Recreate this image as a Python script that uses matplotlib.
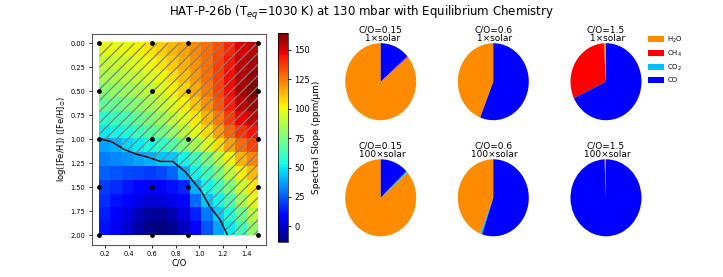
# HAT-P-26b - spektralni sklon + chemicke slozeni (kolace)

import numpy as np
import matplotlib.pyplot as plt

plt.rcParams['hatch.color'] = 'gray'
plt.rcParams['hatch.linewidth'] = 0.9

# mrizka sklonu (ppm/um), radky = log metalicity 0 -> 2, sloupce = C/O 0.15 -> 1.5
slope = np.array([
    [98, 99, 100, 102, 105, 109, 113, 117, 122, 127, 133, 141, 149, 155],
    [91, 92, 94, 97, 101, 105, 110, 115, 121, 127, 135, 144, 153, 158],
    [85, 86, 88, 91, 95, 100, 106, 112, 119, 127, 136, 146, 156, 161],
    [78, 80, 82, 85, 90, 96, 102, 108, 116, 125, 135, 146, 157, 164],
    [70, 72, 75, 79, 84, 90, 96, 103, 111, 121, 132, 143, 154, 160],
    [58, 61, 65, 70, 76, 82, 89, 96, 104, 114, 125, 137, 147, 153],
    [50, 52, 56, 61, 67, 74, 81, 88, 97, 107, 118, 129, 139, 145],
    [37, 40, 46, 50, 54, 60, 67, 76, 85, 95, 106, 117, 128, 136],
    [31, 33, 35, 38, 40, 44, 44, 52, 63, 75, 88, 101, 114, 123],
    [26, 24, 22, 21, 20, 22, 27, 40, 52, 62, 75, 88, 103, 113],
    [20, 17, 13, 10, 8, 9, 12, 16, 40, 52, 63, 76, 93, 105],
    [17, 12, 7, 3, 0, 1, 4, 8, 28, 44, 52, 65, 84, 98],
    [14, 8, 2, -4, -8, -9, -6, 2, 15, 30, 45, 55, 72, 88],
    [12, 5, -1, -7, -11, -13, -10, -3, 8, 24, 38, 50, 62, 80],
])
co_grid = np.linspace(0.15, 1.5, 14)
met_grid = np.linspace(0, 2, 14)
hranice = 44  # uroven kontury

# body modelu
co_body = [0.15, 0.6, 0.9, 1.5]
met_body = [0, 0.5, 1.0, 1.5, 2.0]

# kolace: H2O, CH4, CO2, CO
molekuly = ['H$_2$O', 'CH$_4$', 'CO$_2$', 'CO']
barvy = ['darkorange', 'red', 'deepskyblue', 'blue']
pie_co = ['0.15', '0.6', '1.5']
pie_met = ['1', '100']
slozeni_1x = [[0.86, 0.004, 0.001, 0.135],
              [0.44, 0.0, 0.0, 0.56],
              [0.01, 0.31, 0.0, 0.68]]
slozeni_100x = [[0.865, 0.0, 0.007, 0.128],
                [0.44, 0.0, 0.009, 0.551],
                [0.003, 0.004, 0.0, 0.993]]

fig = plt.figure(figsize=(7.23, 2.77), dpi=100)
fig.suptitle('HAT-P-26b (T$_{eq}$=1030 K) at 130 mbar with Equilibrium Chemistry',
             fontsize=8.5, y=0.985)

# heatmapa
ax = fig.add_axes([0.1266, 0.1159, 0.2413, 0.7625])
im = ax.imshow(slope, cmap='jet', aspect='auto', interpolation='nearest',
               extent=[0.15, 1.5, 2, 0], vmin=slope.min(), vmax=slope.max())
X, Y = np.meshgrid(co_grid, met_grid)
ax.contourf(X, Y, slope, levels=[hranice, 1000], colors='none', hatches=['///'])
ax.contour(X, Y, slope, levels=[hranice], colors='black', linewidths=1)
bx, by = np.meshgrid(co_body, met_body)
ax.scatter(bx.ravel(), by.ravel(), s=6, color='black', zorder=5)
ax.set_xlim(0.0825, 1.5675)
ax.set_ylim(2.1, -0.1)
ax.set_xticks([0.2, 0.4, 0.6, 0.8, 1.0, 1.2, 1.4])
ax.set_yticks(np.arange(0, 2.01, 0.25))
ax.xaxis.set_major_formatter(plt.FormatStrFormatter('%.1f'))
ax.yaxis.set_major_formatter(plt.FormatStrFormatter('%.2f'))
ax.tick_params(labelsize=4.8, length=2.5, width=0.6, pad=2)
ax.set_xlabel('C/O', fontsize=6, labelpad=1)
ax.set_ylabel('log([Fe/H]) ([Fe/H]$_{\\odot}$)', fontsize=6, labelpad=2)
for s in ax.spines.values():
    s.set_color('0.35')
    s.set_linewidth(0.8)

cax = fig.add_axes([0.385, 0.1274, 0.0138, 0.752])
cb = fig.colorbar(im, cax=cax)
cb.set_ticks([0, 25, 50, 75, 100, 125, 150])
cb.ax.tick_params(labelsize=6, length=2.5, width=0.6, pad=2)
cb.set_label('Spectral Slope (ppm/μm)', fontsize=6.5, labelpad=1)
cb.outline.set_linewidth(0.5)

# kolace
stredy_x = [380.7, 493.3, 606.0]
stredy_y = [81.7, 197.8]
W, H = 723.0, 277.0
wedges = None
for r, (met, slozeni) in enumerate(zip(pie_met, [slozeni_1x, slozeni_100x])):
    for c, co in enumerate(pie_co):
        pax = fig.add_axes([(stredy_x[c] - 35.5) / W, (H - stredy_y[r] - 38.5) / H,
                            71 / W, 77 / H])
        w, _ = pax.pie(slozeni[c], colors=barvy, startangle=90, counterclock=True)
        pax.set_aspect('auto')
        pax.set_xlim(-1, 1)
        pax.set_ylim(-1, 1)
        pax.set_title(f'C/O={co}\n {met}×solar', fontsize=6.5, pad=1.5,
                      linespacing=0.9)
        if wedges is None:
            wedges = w

fig.legend(wedges, molekuly, loc='upper left', bbox_to_anchor=(0.893, 0.885),
           frameon=False, fontsize=5, handlelength=2.2, handleheight=1.0,
           labelspacing=0.55, handletextpad=0.5, borderaxespad=0)

plt.savefig('out.png', dpi=100)
